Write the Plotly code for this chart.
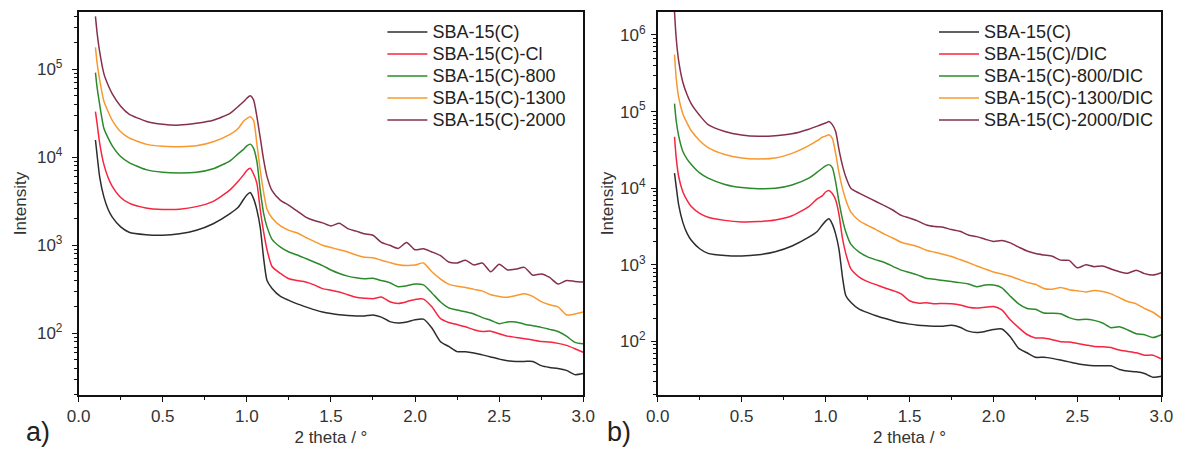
import plotly.graph_objects as go

# ---------------- data ----------------
two_theta = [0.10, 0.11, 0.125, 0.15, 0.175, 0.2, 0.25, 0.3, 0.4, 0.5, 0.6, 0.7, 0.8, 0.9, 0.95, 0.98,
             1.0, 1.02, 1.04, 1.06, 1.08, 1.1, 1.12, 1.15, 1.2, 1.25,
             1.3, 1.35, 1.4, 1.45, 1.5, 1.55, 1.6, 1.65, 1.7, 1.75, 1.8, 1.85, 1.9, 1.95,
             2.0, 2.05, 2.1, 2.15, 2.2, 2.25, 2.3, 2.35, 2.4, 2.45, 2.5, 2.55, 2.6, 2.65,
             2.7, 2.75, 2.8, 2.85, 2.9, 2.95, 3.0]

# panel a)
sba15c = [15700, 10500, 6000, 3550, 2570, 2090, 1620, 1410, 1320, 1300, 1350, 1480, 1760, 2290, 2720, 3310,
          3720, 3980, 3390, 2510, 1580, 708, 398, 324, 263, 237,
          216, 200, 186, 175, 168, 163, 160, 158, 158, 162, 153, 136, 131, 135,
          143, 145, 115, 81, 71, 62, 62, 60, 57, 54, 51, 49, 48, 48,
          48, 43, 41, 40, 38, 34, 35]
sba15c_cl = [33000, 24000, 14500, 8300, 5890, 4680, 3500, 3020, 2660, 2560, 2570, 2750, 3160, 4270, 5370, 6310,
             7080, 7500, 6460, 5010, 2510, 1410, 891, 575, 479, 417,
             398, 383, 355, 322, 309, 295, 275, 257, 251, 248, 259, 229, 219, 229,
             243, 245, 200, 148, 133, 126, 119, 110, 105, 106, 99, 93, 90, 87,
             84, 81, 80, 77, 73, 67, 61]
sba15c_800 = [91600, 61700, 39800, 21400, 16600, 13500, 10200, 8710, 7240, 6760, 6650, 6760, 7410, 9120, 11000, 12300,
              13500, 14100, 12600, 8900, 4170, 2290, 1620, 1170, 955, 840,
              776, 708, 646, 589, 525, 479, 447, 427, 417, 422, 398, 376, 339, 347,
              363, 355, 288, 229, 195, 184, 176, 166, 151, 141, 129, 135, 135, 127,
              122, 117, 111, 105, 93, 79, 76]
sba15c_1300 = [177000, 117000, 75900, 43600, 33100, 26300, 19500, 16600, 14100, 13300, 13200, 13500, 15000, 18200, 21400, 25700,
               27500, 28800, 26300, 14000, 7080, 3980, 2570, 2040, 1660, 1480,
               1380, 1230, 1110, 1000, 944, 891, 841, 776, 733, 724, 676, 638, 603, 589,
               596, 631, 501, 417, 363, 343, 331, 316, 302, 275, 263, 257, 269, 282,
               263, 229, 211, 200, 162, 166, 175]
sba15c_2000 = [398000, 257000, 158000, 89100, 66100, 52500, 38000, 30900, 25700, 23700, 23200, 24300, 26300, 31600, 38000, 42700,
               46800, 50100, 44800, 28800, 16600, 9330, 6030, 4170, 3240, 2850,
               2450, 2090, 1910, 1800, 1660, 1780, 1550, 1450, 1350, 1300, 1080, 1000, 923, 1080,
               891, 912, 841, 767, 646, 631, 676, 596, 631, 501, 610, 525, 537, 562,
               457, 473, 432, 363, 398, 389, 383]

# panel b)
sba15c_dic = [46900, 25100, 14100, 8910, 6920, 5750, 4680, 4170, 3800, 3630, 3670, 3850, 4370, 5750, 7240, 7940,
              8910, 9330, 8510, 7000, 4500, 2240, 1410, 891, 692, 603,
              550, 501, 462, 417, 339, 316, 320, 309, 313, 309, 299, 279, 272, 279,
              285, 257, 191, 151, 123, 111, 111, 105, 99, 98, 94, 90, 86, 85,
              83, 77, 74, 71, 66, 66, 59]
sba15c_800_dic = [127000, 75900, 47900, 30200, 24000, 20400, 15800, 13500, 11200, 10200, 9840, 9950, 11000, 13500, 16200, 18200,
                  19500, 20300, 18600, 12000, 6610, 3980, 2690, 1860, 1460, 1270,
                  1160, 1070, 955, 851, 794, 733, 665, 646, 624, 603, 585, 562, 518, 543,
                  543, 501, 389, 309, 269, 262, 234, 233, 229, 204, 191, 195, 188, 174,
                  151, 155, 141, 126, 122, 112, 122]
sba15c_1300_dic = [556000, 275000, 152000, 93300, 70800, 56200, 41700, 33900, 27500, 24800, 24100, 24800, 28500, 35900, 41700, 46200,
                   47900, 49800, 44700, 28200, 15800, 10000, 7080, 4900, 3760, 3270,
                   2880, 2510, 2240, 1970, 1840, 1720, 1550, 1460, 1370, 1280, 1170, 1070, 966, 881,
                   804, 759, 708, 646, 589, 556, 490, 479, 507, 473, 457, 442, 462, 447,
                   417, 372, 331, 309, 269, 240, 201]
sba15c_2000_dic = [2000000, 912000, 457000, 240000, 166000, 126000, 89100, 67600, 55000, 49500, 47600, 48400, 51300, 58900, 64600, 68400,
                   70800, 74100, 67600, 55000, 31600, 20000, 14100, 10000, 8610, 7590,
                   6700, 5930, 5190, 4420, 4070, 3720, 3310, 3160, 3090, 2880, 2740, 2450, 2330, 2160,
                   2020, 2070, 1930, 1700, 1510, 1400, 1340, 1290, 1150, 1140, 912, 1000, 944, 966,
                   881, 813, 776, 851, 767, 733, 785]

names_a = ["SBA-15(C)", "SBA-15(C)-Cl", "SBA-15(C)-800", "SBA-15(C)-1300", "SBA-15(C)-2000"]
names_b = ["SBA-15(C)", "SBA-15(C)/DIC", "SBA-15(C)-800/DIC", "SBA-15(C)-1300/DIC", "SBA-15(C)-2000/DIC"]
series_a = [sba15c, sba15c_cl, sba15c_800, sba15c_1300, sba15c_2000]
series_b = [sba15c, sba15c_dic, sba15c_800_dic, sba15c_1300_dic, sba15c_2000_dic]

x_tickvals = [0.0, 0.5, 1.0, 1.5, 2.0, 2.5, 3.0]
x_ticktext = ["0.0", "0.5", "1.0", "1.5", "2.0", "2.5", "3.0"]
x_minor = [0.25, 0.75, 1.25, 1.75, 2.25, 2.75]
y_tickvals_a = [1e2, 1e3, 1e4, 1e5]
y_ticktext_a = ["10<sup>2</sup>", "10<sup>3</sup>", "10<sup>4</sup>", "10<sup>5</sup>"]
y_tickvals_b = [1e2, 1e3, 1e4, 1e5, 1e6]
y_ticktext_b = ["10<sup>2</sup>", "10<sup>3</sup>", "10<sup>4</sup>", "10<sup>5</sup>", "10<sup>6</sup>"]
y_minor = [k * 10 ** e for e in range(1, 7) for k in range(2, 10)]

# ---------------- styling ----------------
colors = ["#2d2d2d", "#f7253f", "#2b8a2b", "#f9982f", "#86304a"]
FONT = "Liberation Sans, Arial, sans-serif"
W, H = 1191, 450

fig = go.Figure()
for name, ys, c in zip(names_a, series_a, colors):
    fig.add_trace(go.Scatter(x=two_theta, y=ys, mode="lines", name="<span style='font-size:18px'>" + name + "</span>",
                             line=dict(color=c, width=1.5, shape="spline", smoothing=0.6),
                             xaxis="x", yaxis="y", legend="legend"))
for name, ys, c in zip(names_b, series_b, colors):
    fig.add_trace(go.Scatter(x=two_theta, y=ys, mode="lines", name="<span style='font-size:18px'>" + name + "</span>",
                             line=dict(color=c, width=1.5, shape="spline", smoothing=0.6),
                             xaxis="x2", yaxis="y2", legend="legend2"))

axis_common = dict(showline=True, linecolor="#111", linewidth=1.5, mirror=True,
                   ticks="outside", ticklen=5, tickwidth=1.2, tickcolor="#111",
                   showgrid=False, zeroline=False,
                   tickfont=dict(size=17, color="#333", family=FONT))
minor_x = dict(tickvals=x_minor, ticks="outside", ticklen=3, tickwidth=1.2, tickcolor="#111")
minor_y = dict(tickvals=y_minor, ticks="outside", ticklen=3, tickwidth=1, tickcolor="#111")

xdom_a = [68 / W, 583 / W]
xdom_b = [659 / W, 1173 / W]
ydom = [1 - 395 / H, 1 - 12 / H]

title_font = dict(size=17, color="#333", family=FONT)

fig.update_layout(
    width=W, height=H,
    margin=dict(l=0, r=0, t=0, b=0),
    paper_bgcolor="white", plot_bgcolor="white",
    font=dict(family=FONT, color="#333"),
    xaxis=dict(domain=xdom_a, range=[0, 3], tickvals=x_tickvals, ticktext=x_ticktext, minor=minor_x,
               anchor="y", title=dict(text="2 theta / °", font=title_font, standoff=6), **axis_common),
    yaxis=dict(domain=ydom, type="log", range=[1.3, 5.65], tickvals=y_tickvals_a, ticktext=y_ticktext_a,
               minor=minor_y, anchor="x", ticklabelstandoff=6,
               title=dict(text="Intensity", font=title_font, standoff=6), **axis_common),
    xaxis2=dict(domain=xdom_b, range=[0, 3], tickvals=x_tickvals, ticktext=x_ticktext, minor=minor_x,
                anchor="y2", title=dict(text="2 theta / °", font=title_font, standoff=6), **axis_common),
    yaxis2=dict(domain=ydom, type="log", range=[1.3, 6.3], tickvals=y_tickvals_b, ticktext=y_ticktext_b,
                minor=minor_y, anchor="x2", ticklabelstandoff=2,
                title=dict(text="Intensity", font=title_font, standoff=2), **axis_common),
    legend=dict(x=378 / W, y=1 - 16 / H, xanchor="left", yanchor="top", bgcolor="rgba(0,0,0,0)",
                font=dict(size=14.6, color="#222", family=FONT), itemwidth=40, borderwidth=0),
    legend2=dict(x=941 / W, y=1 - 16 / H, xanchor="left", yanchor="top", bgcolor="rgba(0,0,0,0)",
                 font=dict(size=14.6, color="#222", family=FONT), itemwidth=40, borderwidth=0),
    annotations=[
        dict(text="a)", xref="paper", yref="paper", x=12 / W, y=1 - 432 / H, xanchor="left", yanchor="middle",
             showarrow=False, font=dict(size=27, color="#222", family=FONT)),
        dict(text="b)", xref="paper", yref="paper", x=605 / W, y=1 - 432 / H, xanchor="left", yanchor="middle",
             showarrow=False, font=dict(size=27, color="#222", family=FONT)),
    ],
)

fig.write_html("out.html")
